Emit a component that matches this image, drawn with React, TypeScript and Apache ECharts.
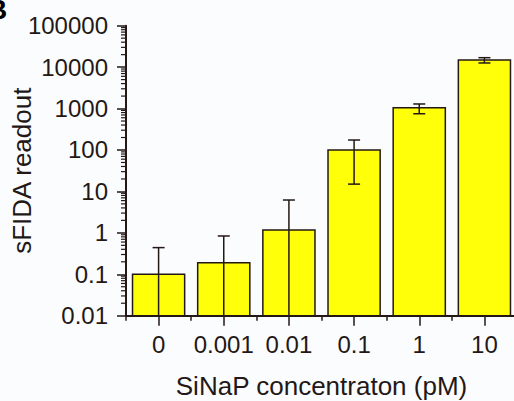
import React, { useEffect, useRef } from "react";
import * as echarts from "echarts";

const categories = ["0", "0.001", "0.01", "0.1", "1", "10"];
const means = [0.1, 0.19, 1.17, 100, 1050, 14800];
const upper = [0.44, 0.84, 6.2, 174, 1290, 16900];
const lower: (number | null)[] = [null, null, null, 15, 750, 12600];
const yTickLabels = ["0.01", "0.1", "1", "10", "100", "1000", "10000", "100000"];
const yMin = 0.01;
const yMax = 100000;

const INK = "#231815";
const FONT = "'Liberation Sans', Arial, sans-serif";

// minor tick positions of the log axis (2..9 within each decade)
const minorTickValues: number[] = [];
for (let e = -2; e < 5; e++) {
  for (let k = 2; k <= 9; k++) minorTickValues.push(k * Math.pow(10, e));
}

export default function App() {
  const ref = useRef<HTMLDivElement>(null);
  useEffect(() => {
    if (!ref.current) return;
    const chart = echarts.init(ref.current, undefined, { renderer: "svg" });
    const gridBox = { left: 126, right: 3, top: 25.7, bottom: 85.3, containLabel: false, outerBoundsMode: "none" };
    chart.setOption({
      animation: false,
      backgroundColor: "#fbfcfe",
      textStyle: { fontFamily: FONT, color: INK },
      grid: [{ ...gridBox }, { ...gridBox }],
      xAxis: [
        {
          type: "category",
          gridIndex: 0,
          data: categories,
          name: "SiNaP concentraton (pM)",
          nameLocation: "middle",
          nameGap: 57,
          nameMoveOverlap: false,
          nameTextStyle: { fontSize: 26, color: INK, fontFamily: FONT },
          axisLine: { show: true, lineStyle: { color: INK, width: 2 } },
          axisTick: { show: true, alignWithLabel: true, length: 10, lineStyle: { color: INK, width: 1.5 } },
          axisLabel: { interval: 0, fontSize: 24, margin: 17, color: INK, fontFamily: FONT },
          splitLine: { show: false },
        },
        {
          type: "category",
          gridIndex: 1,
          data: categories,
          axisLine: { show: false },
          axisTick: { show: true, alignWithLabel: false, length: 5, lineStyle: { color: INK, width: 1.5 } },
          axisLabel: { show: false },
          splitLine: { show: false },
        },
      ],
      yAxis: [
        {
          type: "log",
          gridIndex: 0,
          min: yMin,
          max: yMax,
          logBase: 10,
          name: "sFIDA readout",
          nameLocation: "middle",
          nameGap: 91,
          nameMoveOverlap: false,
          nameTextStyle: { fontSize: 26, color: INK, fontFamily: FONT },
          axisLine: { show: true, lineStyle: { color: INK, width: 2 } },
          axisTick: { show: true, inside: false, length: 9, lineStyle: { color: INK, width: 1.5 } },
          axisLabel: {
            fontSize: 24,
            margin: 18,
            color: INK,
            fontFamily: FONT,
            formatter: (v: number) => yTickLabels[Math.round(Math.log10(v)) + 2] ?? "",
          },
          splitLine: { show: false },
        },
        { type: "value", gridIndex: 1, show: false },
      ],
      graphic: [
        {
          type: "text",
          left: -13,
          top: -5,
          style: { text: "B", fontSize: 28, fontWeight: "bold", fontFamily: FONT, fill: "#000" },
        },
      ],
      series: [
        {
          type: "custom",
          xAxisIndex: 0,
          yAxisIndex: 0,
          data: categories.map((_, i) => [i, means[i]]),
          z: 3,
          renderItem: (params: any, api: any) => {
            const i = api.value(0);
            const top = api.coord([i, api.value(1)]);
            const base = api.coord([i, yMin]);
            const w = api.size([1, 0])[0] * 0.8;
            return {
              type: "rect",
              shape: { x: top[0] - w / 2, y: top[1], width: w, height: base[1] - top[1] },
              style: { fill: "#ffff0a", stroke: INK, lineWidth: 1.5 },
            };
          },
        },
        {
          type: "custom",
          xAxisIndex: 0,
          yAxisIndex: 0,
          data: categories.map((_, i) => [i, lower[i], upper[i]]),
          z: 5,
          renderItem: (params: any, api: any) => {
            const i = api.value(0);
            const hi = api.coord([i, api.value(2)]);
            const lv = api.value(1);
            const cs = params.coordSys;
            const hasLow = lv > 0;
            const lo = hasLow ? api.coord([i, lv]) : [hi[0], cs.y + cs.height];
            const hw = 6;
            const st = { stroke: INK, lineWidth: 1.5 };
            const children: any[] = [
              { type: "line", shape: { x1: hi[0], y1: hi[1], x2: lo[0], y2: lo[1] }, style: st },
              { type: "line", shape: { x1: hi[0] - hw, y1: hi[1], x2: hi[0] + hw, y2: hi[1] }, style: st },
            ];
            if (hasLow) {
              children.push({ type: "line", shape: { x1: lo[0] - hw, y1: lo[1], x2: lo[0] + hw, y2: lo[1] }, style: st });
            }
            return { type: "group", children };
          },
        },
        {
          type: "custom",
          xAxisIndex: 0,
          yAxisIndex: 0,
          data: minorTickValues.map((v) => [0, v]),
          z: 5,
          renderItem: (params: any, api: any) => {
            const y = api.coord([0, api.value(1)])[1];
            const x = params.coordSys.x;
            return {
              type: "line",
              shape: { x1: x - 5, y1: y, x2: x, y2: y },
              style: { stroke: INK, lineWidth: 1.2 },
            };
          },
        },
      ],
    });
    return () => chart.dispose();
  }, []);
  return (
    <div style={{ position: "fixed", left: 0, top: 0, width: 514, height: 401, overflow: "hidden" }}>
      <div ref={ref} style={{ width: 520, height: 401 }} />
    </div>
  );
}
